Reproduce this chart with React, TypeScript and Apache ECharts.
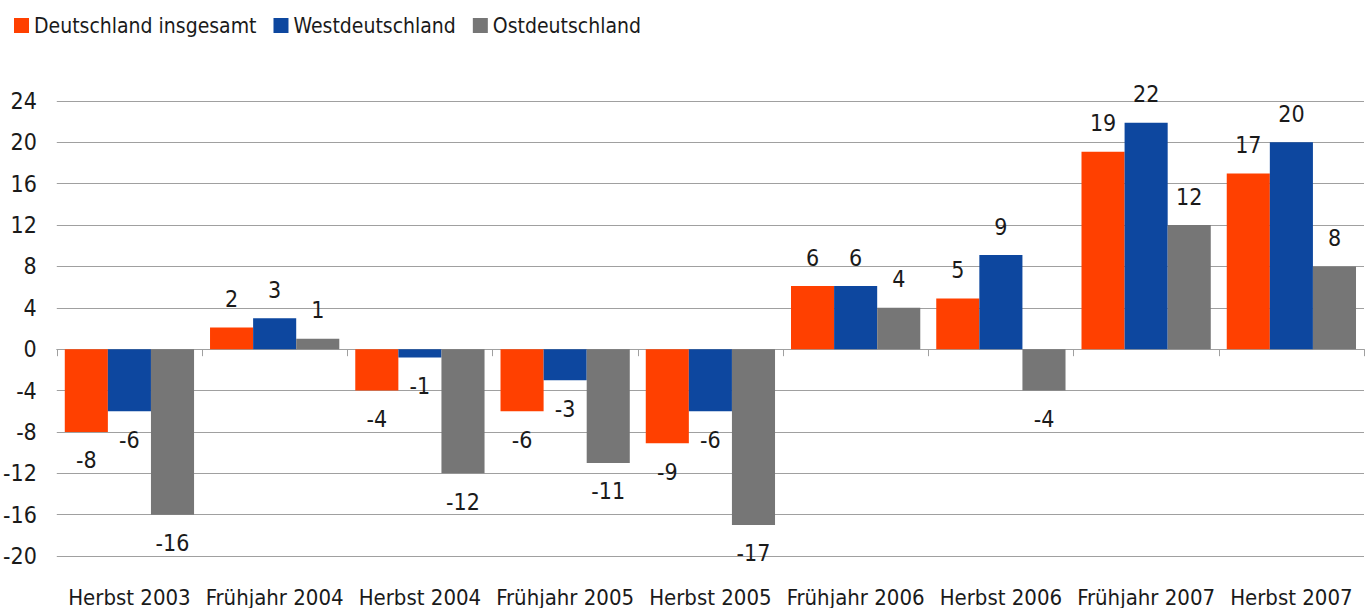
import React, { useEffect, useRef } from "react";
import * as echarts from "echarts";

const categories = [
  "Herbst 2003",
  "Frühjahr 2004",
  "Herbst 2004",
  "Frühjahr 2005",
  "Herbst 2005",
  "Frühjahr 2006",
  "Herbst 2006",
  "Frühjahr 2007",
  "Herbst 2007",
];
const seriesNames = ["Deutschland insgesamt", "Westdeutschland", "Ostdeutschland"];
const deutschland = [-8, 2.1, -4, -6, -9.1, 6.1, 4.9, 19.1, 17];
const west = [-6, 3, -0.8, -3, -6, 6.1, 9.1, 21.9, 20];
const ost = [-16, 1, -12, -11, -17, 4, -4, 12, 8];
const colors = ["#FF4000", "#0D479F", "#767676"];
const yTicks = { min: -20, max: 24, interval: 4 };

const FONT = '"DejaVu Sans Condensed", "Liberation Sans Narrow", "Noto Sans", sans-serif';

export default function App() {
  const ref = useRef<HTMLDivElement>(null);
  useEffect(() => {
    if (!ref.current) return;
    const chart = echarts.init(ref.current, undefined, { renderer: "svg" });
    const mk = (name: string, vals: number[], color: string) => ({
      name,
      type: "bar",
      xAxisIndex: 0,
      barGap: "0%",
      barCategoryGap: "11%",
      itemStyle: { color },
      data: vals.map((v) => ({
        value: v,
        label: { position: v < 0 ? "bottom" : "top" },
      })),
      label: {
        show: true,
        distance: 17,
        fontSize: 23,
        fontFamily: FONT,
        color: "#1a1a1a",
        formatter: (p: any) => String(Math.round(p.value)),
      },
    });
    chart.setOption({
      animation: false,
      textStyle: { fontFamily: FONT },
      color: colors,
      legend: {
        left: 9,
        top: 10,
        icon: "rect",
        itemWidth: 15,
        itemHeight: 15,
        itemGap: 17,
        textStyle: { fontSize: 21, fontFamily: FONT, color: "#1a1a1a" },
        data: seriesNames,
      },
      grid: { left: 56, right: 8, top: 101, bottom: 51, containLabel: false },
      xAxis: [
        {
          type: "category",
          data: categories,
          position: "bottom",
          axisLine: { show: false, onZero: false },
          axisTick: { show: false },
          axisLabel: {
            fontSize: 22,
            fontFamily: FONT,
            color: "#1a1a1a",
            margin: 30,
            interval: 0,
          },
        },
        {
          type: "category",
          data: categories,
          position: "top",
          axisLine: { show: true, onZero: true, lineStyle: { color: "#a0a0a0", width: 1 } },
          axisTick: { show: true, inside: true, length: 7, lineStyle: { color: "#a0a0a0" } },
          axisLabel: { show: false },
        },
      ],
      yAxis: {
        type: "value",
        min: yTicks.min,
        max: yTicks.max,
        interval: yTicks.interval,
        axisLine: { show: false },
        axisTick: { show: false },
        axisLabel: { fontSize: 23, fontFamily: FONT, color: "#1a1a1a", margin: 20 },
        splitLine: { lineStyle: { color: "#a0a0a0", width: 1 } },
      },
      series: [
        mk(seriesNames[0], deutschland, colors[0]),
        mk(seriesNames[1], west, colors[1]),
        mk(seriesNames[2], ost, colors[2]),
      ],
    });
    return () => chart.dispose();
  }, []);
  return (
    <div
      ref={ref}
      style={{ position: "absolute", left: 0, top: 0, width: 1372, height: 608 }}
    />
  );
}
